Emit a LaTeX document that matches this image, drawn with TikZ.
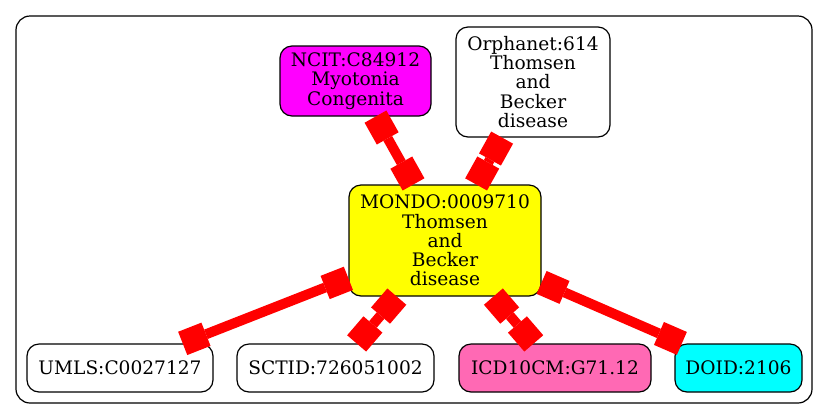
\documentclass[tikz,border=0pt]{standalone}
\usepackage{fontspec}
\setmainfont{DejaVu Serif}
\usetikzlibrary{arrows.meta}
\definecolor{hotpink}{RGB}{255,105,180}
\definecolor{gvmagenta}{RGB}{255,0,255}
\definecolor{gvyellow}{RGB}{255,255,0}
\definecolor{gvcyan}{RGB}{0,255,255}
\definecolor{gvred}{RGB}{255,0,0}
\begin{document}
\begin{tikzpicture}[x=0.5pt,y=-0.5pt,
  termbox/.style={draw=black,line width=0.6pt,rounded corners=6pt,align=center,
    inner sep=0pt,font=\fontsize{9.3}{9.6}\selectfont},
  link/.style={draw=gvred,line width=5pt,
    {Rectangle[length=12.5pt,width=12.5pt,line width=0pt]}-{Rectangle[length=12.5pt,width=12.5pt,line width=0pt]}}]
\useasboundingbox (0,0) rectangle (829,419);
\draw[line width=0.6pt,rounded corners=7pt] (16,16) rectangle (812,403);
\node[termbox,fill=gvmagenta,minimum width=75.5pt,minimum height=35pt] (ncit) at (355.5,81) {NCIT:C84912\\Myotonia\\Congenita};
\node[termbox,fill=white,minimum width=77pt,minimum height=55pt] (orpha) at (533,82) {Orphanet:614\\Thomsen\\and\\Becker\\disease};
\node[termbox,fill=gvyellow,minimum width=96pt,minimum height=55.5pt] (mondo) at (445,240.5) {MONDO:0009710\\Thomsen\\and\\Becker\\disease};
\node[termbox,fill=white,minimum width=93pt,minimum height=24pt] (umls) at (120,368) {UMLS:C0027127};
\node[termbox,fill=white,minimum width=98.5pt,minimum height=24pt] (sctid) at (335.5,368) {SCTID:726051002};
\node[termbox,fill=hotpink,minimum width=96pt,minimum height=24pt] (icd) at (555,368) {ICD10CM:G71.12};
\node[termbox,fill=gvcyan,minimum width=63.5pt,minimum height=24pt] (doid) at (738.5,368) {DOID:2106};
\draw[link] (ncit) -- (mondo);
\draw[link] (orpha) -- (mondo);
\draw[link] (mondo) -- (umls);
\draw[link] (mondo) -- (sctid);
\draw[link] (mondo) -- (icd);
\draw[link] (mondo) -- (doid);
\end{tikzpicture}
\end{document}
